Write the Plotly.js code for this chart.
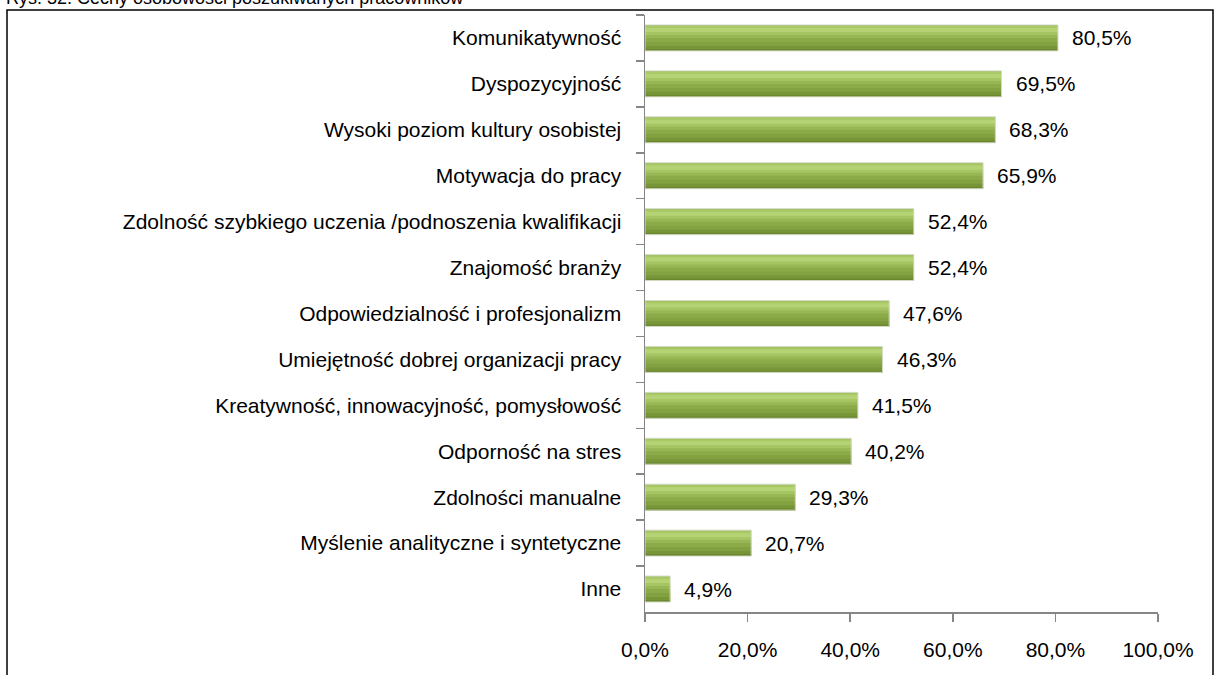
<!DOCTYPE html>
<html>
<head>
<meta charset="utf-8">
<script src="https://cdn.plot.ly/plotly-3.0.1.min.js"></script>
<style>
html,body{margin:0;padding:0;background:#fff;}
#chart{width:1219px;height:675px;}
</style>
</head>
<body>
<div id="chart"></div>
<script>
// ---- data ----
const chartTitle = "Rys. 32. Cechy osobowości poszukiwanych pracowników";
const categories = [
  "Komunikatywność",
  "Dyspozycyjność",
  "Wysoki poziom kultury osobistej",
  "Motywacja do pracy",
  "Zdolność szybkiego uczenia /podnoszenia kwalifikacji",
  "Znajomość branży",
  "Odpowiedzialność i profesjonalizm",
  "Umiejętność dobrej organizacji pracy",
  "Kreatywność, innowacyjność, pomysłowość",
  "Odporność na stres",
  "Zdolności manualne",
  "Myślenie analityczne i syntetyczne",
  "Inne"
];
const values = [80.5, 69.5, 68.3, 65.9, 52.4, 52.4, 47.6, 46.3, 41.5, 40.2, 29.3, 20.7, 4.9];
const xTickVals = [0, 20, 40, 60, 80, 100];
const xTickText = ["0,0%", "20,0%", "40,0%", "60,0%", "80,0%", "100,0%"];

// ---- styling (vertical gradient simulated by layered bars) ----
const BAR_W = 0.5652;          // bar thickness in category units
const BAR_PX = 26;             // same thickness in reference pixels
// each layer starts at a pixel row and runs to the bar's bottom edge;
// later layers paint over earlier ones, so there are no gaps between bands
const layerSpec = [
  [0, "#97b653"],
  [1, "#a9c966"],
  [3, "#b5d375"],
  [7, "#a5c462"],
  [10, "#97b654"],
  [13, "#8cab48"],
  [17, "#82a140"],
  [21, "#789638"],
  [24, "#6b8830"]
];

const traces = layerSpec.map(s => ({
  type: "bar",
  orientation: "h",
  x: values,
  y: categories,
  offset: -BAR_W / 2 + s[0] * BAR_W / BAR_PX,
  width: (BAR_PX - s[0]) * BAR_W / BAR_PX,
  marker: {color: s[1], line: {width: 0}},
  hoverinfo: "skip",
  showlegend: false
}));
traces.push({
  type: "bar",
  orientation: "h",
  x: values,
  y: categories,
  offset: -BAR_W / 2,
  width: BAR_W,
  marker: {color: "rgba(0,0,0,0)", line: {color: "#d6dcc8", width: 1}},
  hoverinfo: "skip",
  showlegend: false
});

const font = {family: "'Liberation Sans', Arial, sans-serif", size: 21, color: "#000"};

const annotations = values.map((v, i) => ({
  x: v,
  y: categories[i],
  xref: "x",
  yref: "y",
  text: v.toFixed(1).replace(".", ",") + "%",
  showarrow: false,
  xanchor: "left",
  yanchor: "middle",
  xshift: 12,
  font: font
}));
annotations.push({
  text: chartTitle,
  xref: "paper",
  yref: "paper",
  x: (4 - 645) / 513,
  y: (612 - (-2)) / 597,
  xanchor: "left",
  yanchor: "middle",
  showarrow: false,
  font: {family: "'Liberation Sans', Arial, sans-serif", size: 18, color: "#000"}
});

const layout = {
  width: 1219,
  height: 675,
  margin: {l: 645, r: 61, t: 15, b: 63, pad: 0},
  paper_bgcolor: "#fff",
  plot_bgcolor: "#fff",
  barmode: "overlay",
  font: font,
  showlegend: false,
  xaxis: {
    range: [0, 100],
    tickmode: "array",
    tickvals: xTickVals,
    ticktext: xTickText,
    showgrid: false,
    zeroline: false,
    showline: true,
    linecolor: "#868686",
    linewidth: 1.5,
    ticks: "outside",
    ticklen: 8,
    tickwidth: 1.5,
    tickcolor: "#868686",
    ticklabelstandoff: 10,
    tickfont: font,
    automargin: false,
    fixedrange: true
  },
  yaxis: {
    type: "category",
    categoryorder: "array",
    categoryarray: categories,
    autorange: "reversed",
    showgrid: false,
    zeroline: false,
    showline: true,
    linecolor: "#868686",
    linewidth: 1.5,
    ticks: "outside",
    tickson: "boundaries",
    ticklen: 8,
    tickwidth: 1.5,
    tickcolor: "#868686",
    ticklabelstandoff: 18,
    tickfont: font,
    automargin: false,
    fixedrange: true
  },
  annotations: annotations,
  shapes: [{
    type: "rect",
    xref: "paper",
    yref: "paper",
    x0: (7 - 645) / 513,
    x1: (1213 - 645) / 513,
    y0: (612 - 720) / 597,
    y1: (612 - 10) / 597,
    line: {color: "#000", width: 1.5},
    fillcolor: "rgba(0,0,0,0)",
    layer: "below"
  }]
};

Plotly.newPlot("chart", traces, layout, {staticPlot: true, displayModeBar: false});
</script>
</body>
</html>
